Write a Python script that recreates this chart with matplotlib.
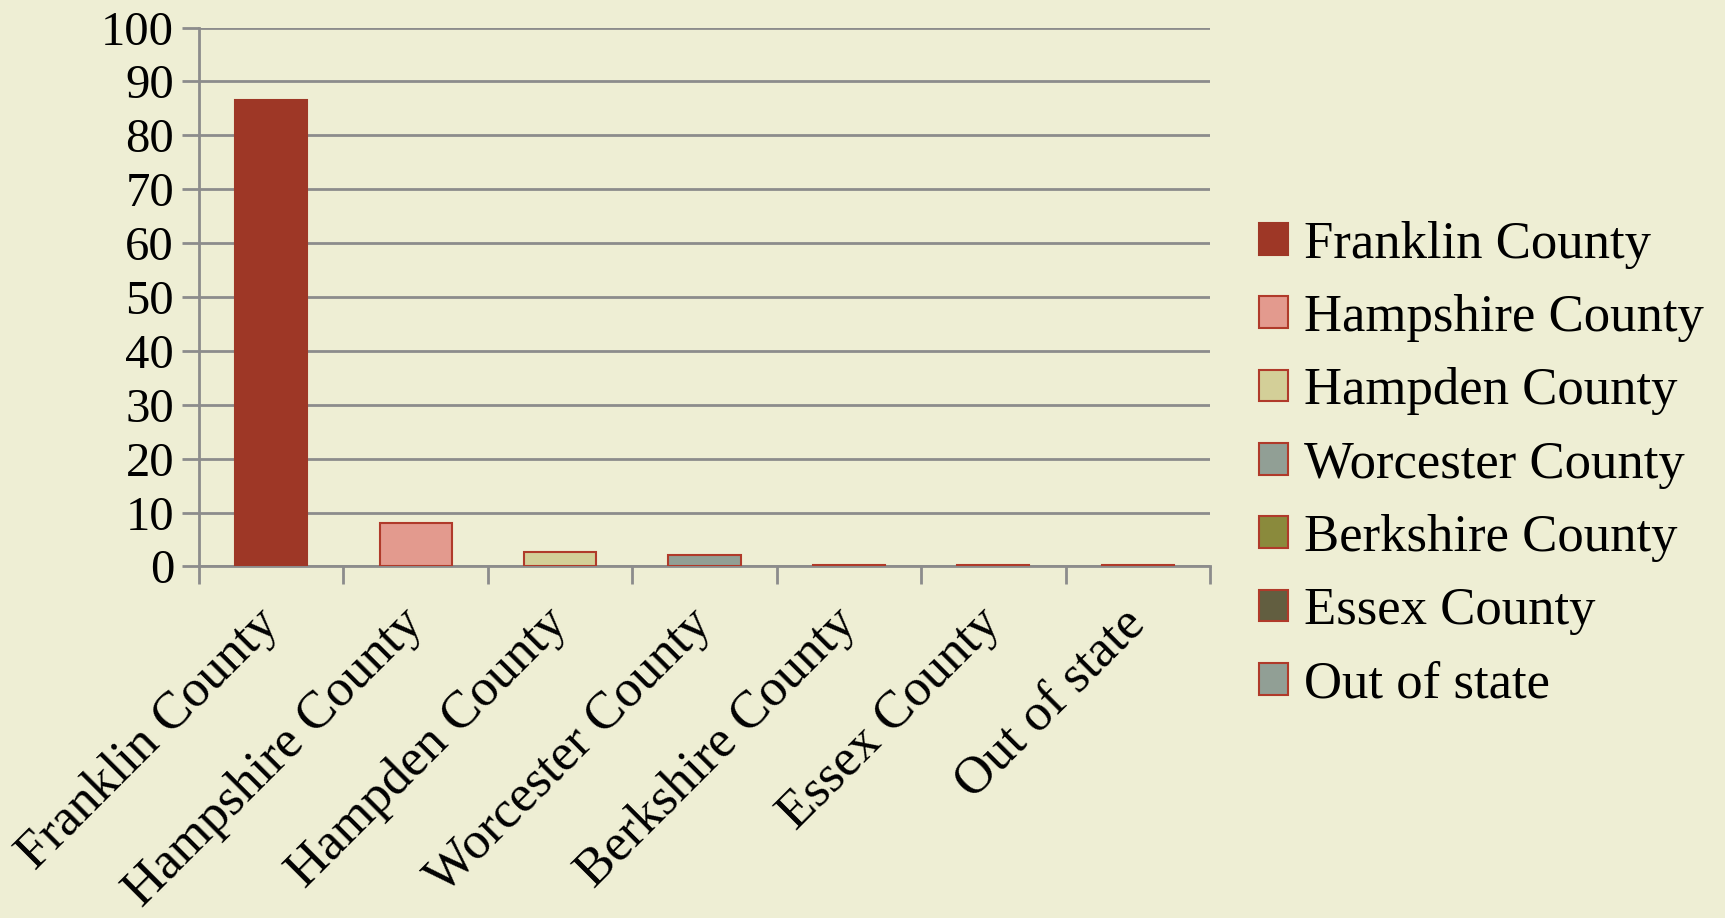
import matplotlib.pyplot as plt
import numpy as np

categories = ["Franklin County", "Hampshire County", "Hampden County", "Worcester County",
              "Berkshire County", "Essex County", "Out of state"]
values = [86.6, 8.0, 2.6, 2.2, 0.25, 0.25, 0.25]
colors = ["#9E3726", "#E39A8E", "#D3CF98", "#919F95", "#8A8A3C", "#625E40", "#919F95"]
edges = ["#9E3726", "#B03A2A", "#B03A2A", "#B03A2A", "#B03A2A", "#B03A2A", "#B03A2A"]
yticks = list(range(0, 101, 10))

bg = "#EEEED4"
grid = "#8C8C8C"
plt.rcParams['font.family'] = ['Liberation Serif', 'DejaVu Serif']

fig = plt.figure(figsize=(17.25, 9.18), dpi=100, facecolor=bg)
ax = fig.add_axes([0.1154, 0.383, 0.5860, 0.587])
ax.set_facecolor(bg)

x = np.arange(len(categories))
for i in range(len(categories)):
    ax.bar(x[i], values[i], width=0.5, color=colors[i], edgecolor=edges[i],
           linewidth=1.5, label=categories[i], zorder=3)

ax.set_xlim(-0.5, len(categories) - 0.5)
ax.set_ylim(0, 100)
ax.set_yticks(yticks)
ax.set_yticklabels([str(v) for v in yticks], fontsize=35)
ax.yaxis.grid(True, color=grid, linewidth=2, zorder=0)

ax.set_xticks(np.arange(-0.5, len(categories), 1.0))
ax.set_xticklabels([])
ax.set_xticks(x, minor=True)
ax.set_xticklabels(categories, minor=True, rotation=45, ha='right', va='center',
                   rotation_mode='anchor', fontsize=38)
ax.tick_params(axis='x', which='minor', length=0, pad=36)
ax.tick_params(axis='x', which='major', length=13, width=2, color=grid)
ax.tick_params(axis='y', length=12, width=2, color=grid, pad=6)

for s in ['top', 'right']:
    ax.spines[s].set_visible(False)
for s in ['left', 'bottom']:
    ax.spines[s].set_color(grid)
    ax.spines[s].set_linewidth(2)

ax.legend(loc='center left', bbox_to_anchor=(0.730, 0.494), bbox_transform=fig.transFigure,
          frameon=False, fontsize=38, handlelength=0.55, handleheight=0.55,
          handletextpad=0.3, labelspacing=0.48, borderpad=0, borderaxespad=0)

fig.savefig("out.png", dpi=100, facecolor=bg)
